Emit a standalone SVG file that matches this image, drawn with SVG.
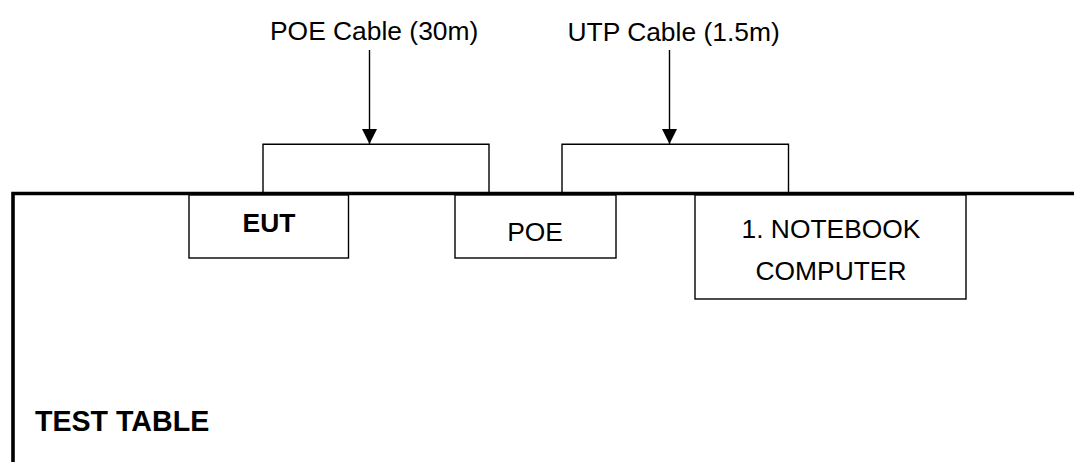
<svg xmlns="http://www.w3.org/2000/svg" width="1074" height="462" viewBox="0 0 1074 462">
<style>
text{font-family:"Liberation Sans",Arial,sans-serif;fill:#000}
.lbl{font-size:26.4px}
.b{font-weight:bold}
.box{fill:#fff;stroke:#000;stroke-width:1.4}
.ln{fill:none;stroke:#000;stroke-width:1.4}
.tbl{fill:none;stroke:#000;stroke-width:3.6}
</style>
<defs>
<marker id="ah" markerUnits="userSpaceOnUse" markerWidth="16" markerHeight="16" viewBox="0 0 16 15" refX="15" refY="7.5" orient="auto">
<path d="M0,0 L15,7.5 L0,15 Z" fill="#000"/>
</marker>
</defs>
<g id="table">
<path class="tbl" d="M13,462 V193.5 H1074"/>
<text class="b" x="35" y="430.5" font-size="28.6">TEST TABLE</text>
</g>
<g id="connectors">
<path class="ln" d="M263,192 V144.3 H489 V192"/>
<path class="ln" d="M562,192 V144.3 H788.5 V192"/>
<line class="ln" x1="369.5" y1="50" x2="369.5" y2="144" marker-end="url(#ah)"/>
<line class="ln" x1="669.5" y1="50" x2="669.5" y2="144" marker-end="url(#ah)"/>
<text class="lbl" x="270" y="40">POE Cable (30m)</text>
<text class="lbl" x="567.5" y="40.5">UTP Cable (1.5m)</text>
</g>
<g id="eut">
<rect class="box" x="189" y="195" width="159.5" height="63"/>
<text class="lbl b" x="269" y="232" text-anchor="middle">EUT</text>
</g>
<g id="poe">
<rect class="box" x="455" y="195" width="161" height="63"/>
<text class="lbl" x="535" y="240.5" text-anchor="middle">POE</text>
</g>
<g id="notebook">
<rect class="box" x="695" y="195" width="271" height="104"/>
<text class="lbl" x="831" y="238" text-anchor="middle">1. NOTEBOOK</text>
<text class="lbl" x="831" y="279.5" text-anchor="middle">COMPUTER</text>
</g>
</svg>
